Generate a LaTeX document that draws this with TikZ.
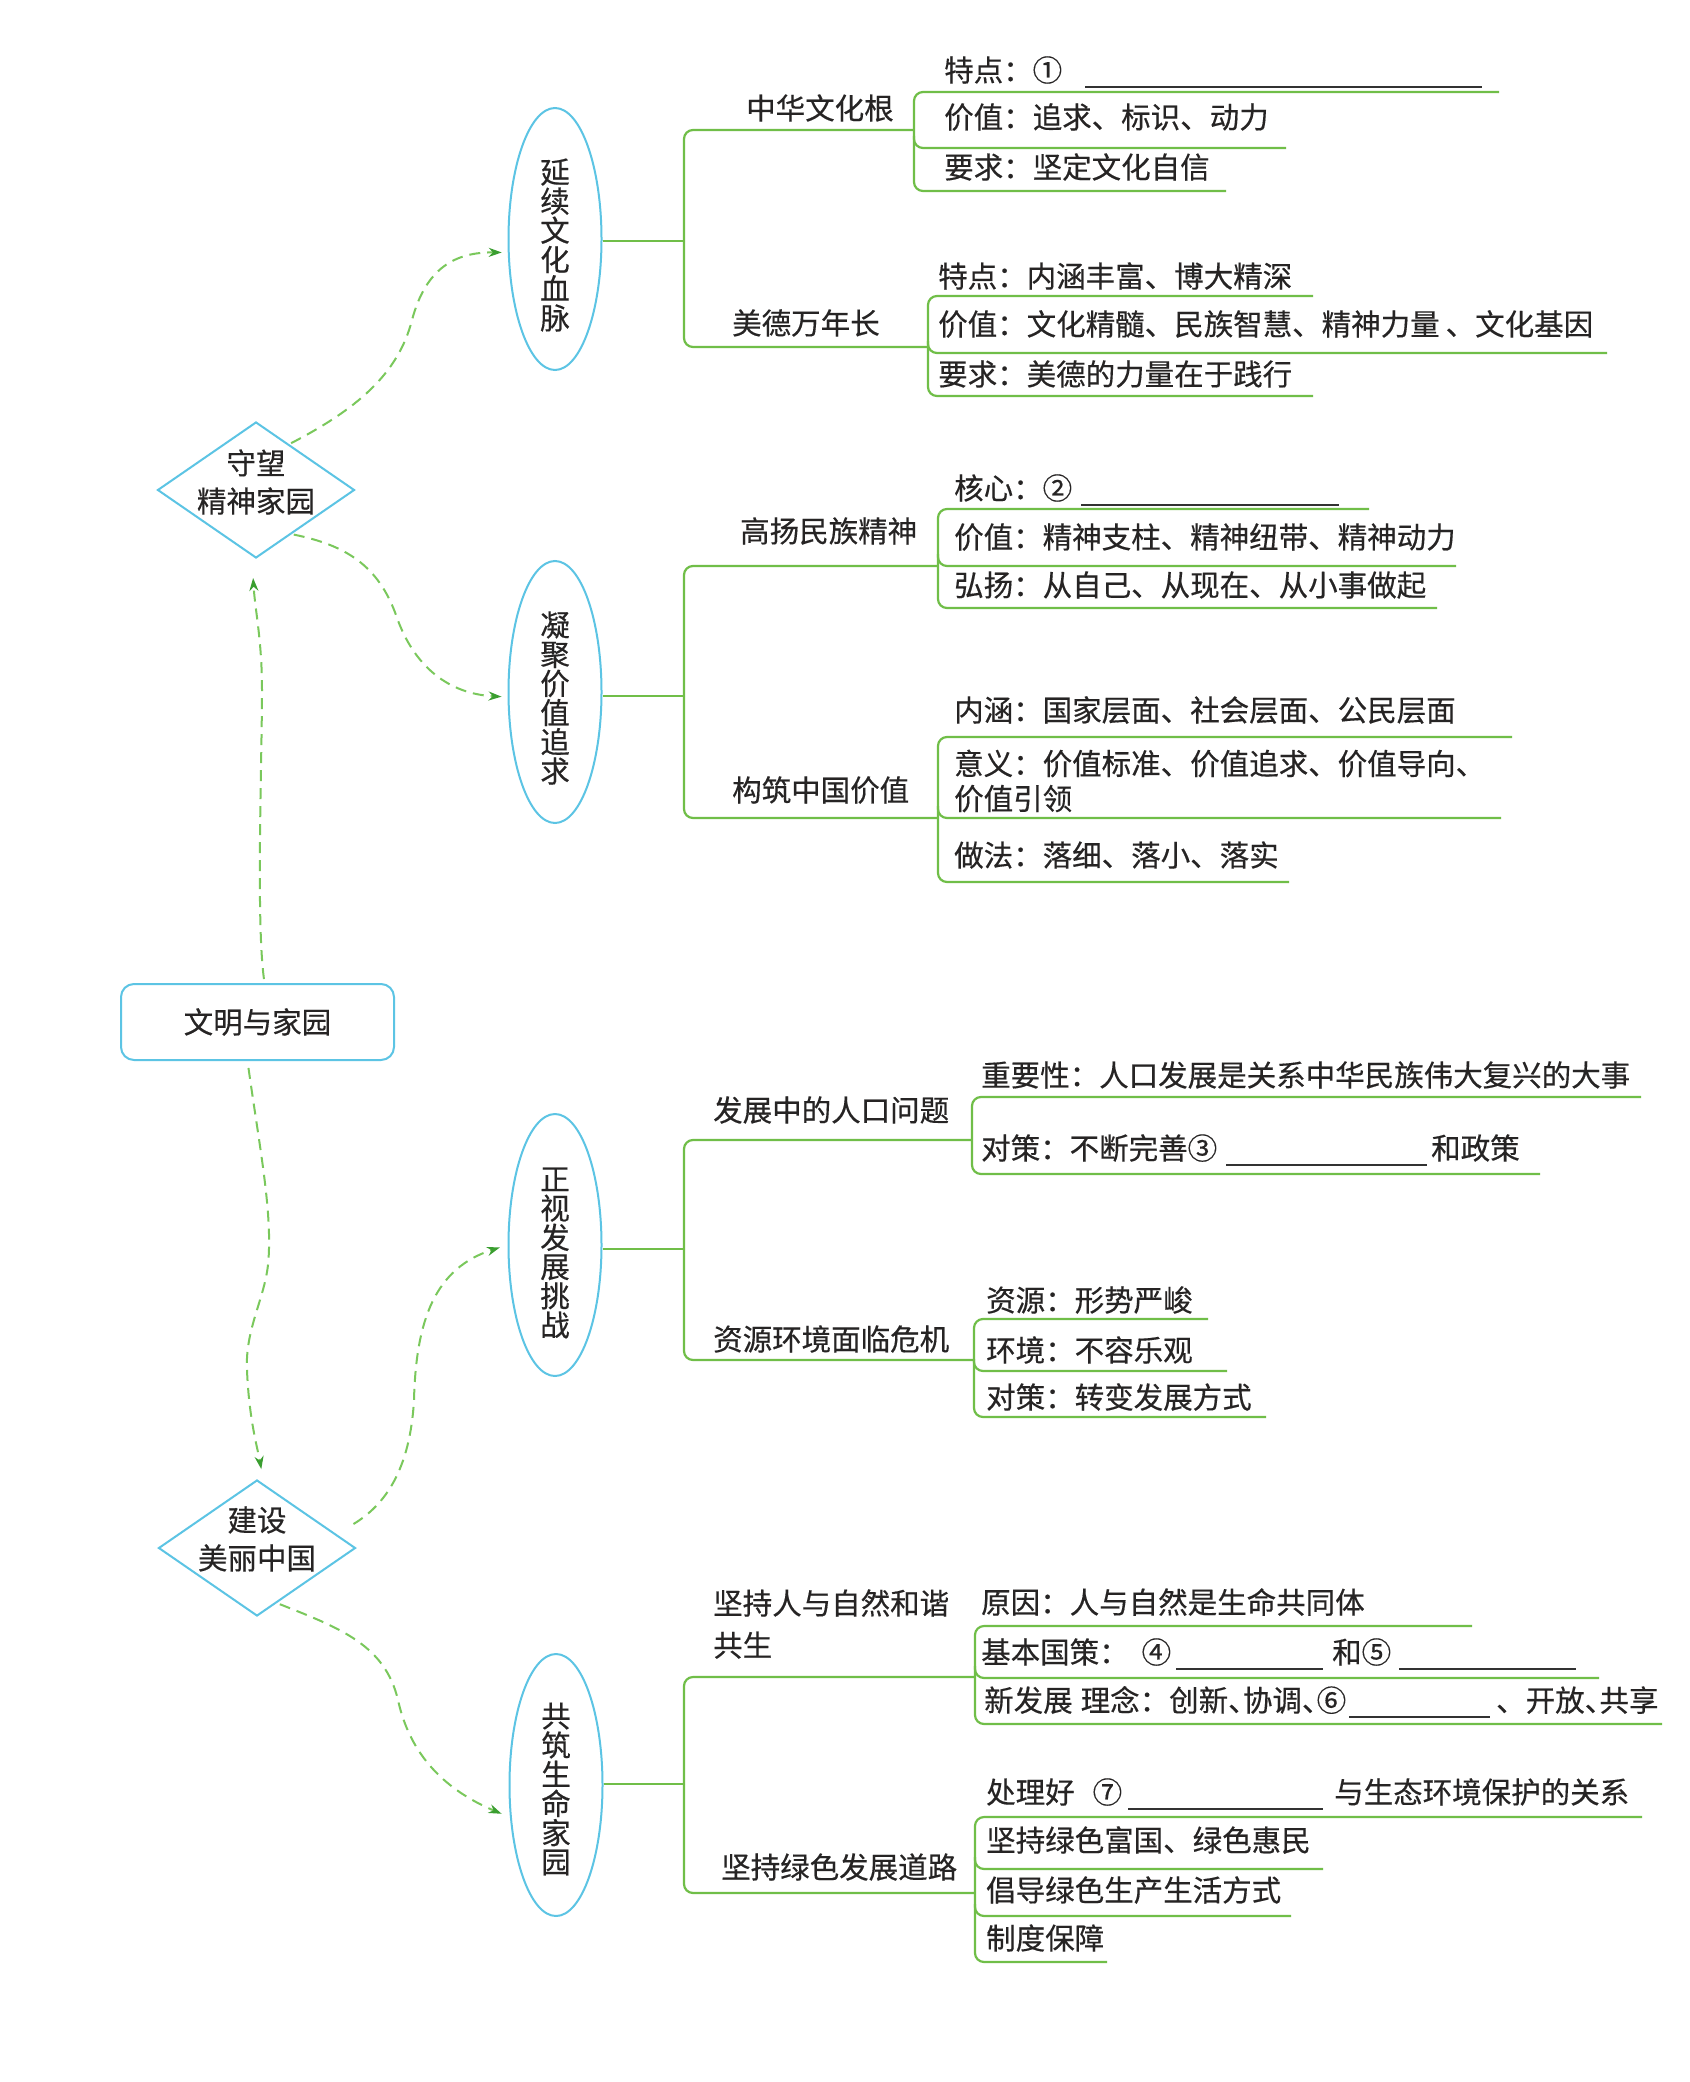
\documentclass[tikz,border=0pt]{standalone}
\usepackage{fontspec}
\setmainfont{Noto Sans CJK SC}[FakeBold=0.4]
\usetikzlibrary{shapes.geometric,arrows.meta,calc}
\definecolor{cy}{RGB}{92,196,228}
\definecolor{gr}{RGB}{112,190,72}
\definecolor{dg}{RGB}{122,200,92}
\definecolor{tipc}{RGB}{58,158,48}
\definecolor{ink}{RGB}{38,36,36}
\definecolor{blk}{RGB}{50,50,50}
\newcommand\myfs{\fontsize{29.5pt}{36pt}\selectfont}
\newcommand\blankln[1]{\raisebox{-7pt}[0pt][0pt]{\textcolor{blk}{\rule{#1}{2pt}}}}
\newcommand\hw[1]{\makebox[14.75pt][l]{#1}}
\begin{document}
\begin{tikzpicture}[x=1pt,y=-1pt,
  txt/.style={anchor=west,inner sep=0pt,text=ink,font=\myfs},
  lab/.style={anchor=west,inner sep=0pt,text=ink,font=\myfs},
  tree/.style={draw=gr,line width=2.2pt,rounded corners=9pt},
  flow/.style={draw=dg,line width=2pt,dash pattern=on 11pt off 7pt,
    -{Stealth[length=13pt,width=9pt,color=tipc]}},
  ttl/.style={draw=cy,line width=2pt,rounded corners=13pt,minimum width=273pt,
    minimum height=76pt,inner sep=0pt,text=ink,font=\myfs},
  dia/.style={diamond,draw=cy,line width=2pt,minimum width=197pt,
    minimum height=136pt,inner sep=0pt},
  ell/.style={ellipse,draw=cy,line width=2pt,minimum width=93pt,
    minimum height=262pt,inner sep=0pt},
  dl/.style={align=center,inner sep=0pt,text=ink,
    font={\fontsize{29.5pt}{38pt}\selectfont}},
  vl/.style={align=center,inner sep=0pt,text=ink,
    font={\fontsize{29.5pt}{29.2pt}\selectfont}}]
\fill[white] (0,0) rectangle (1689,2082);
\useasboundingbox (0,0) rectangle (1689,2082);

% ---------- main nodes ----------
\node[ttl] (T) at (257.5,1022) {文明与家园};
\node[dia,label={[dl,yshift=8pt]center:守望\\精神家园}] (D1) at (256,490) {};
\node[dia,label={[dl,yshift=9pt]center:建设\\美丽中国}] (D2) at (257,1548) {};
\node[ell,label={[vl,yshift=-6pt]center:延\\续\\文\\化\\血\\脉}] (E1) at (555,239) {};
\node[ell,label={[vl,yshift=-6pt]center:凝\\聚\\价\\值\\追\\求}] (E2) at (555,692) {};
\node[ell,label={[vl,yshift=-8pt]center:正\\视\\发\\展\\挑\\战}] (E3) at (555,1245) {};
\node[ell,label={[vl,yshift=-4pt]center:共\\筑\\生\\命\\家\\园}] (E4) at (556,1785) {};

% ---------- dashed arrows ----------
\draw[flow,shorten <=4pt,shorten >=19pt] ([xshift=7pt]T.north)
  .. controls (256,920) and (262,760) .. (262,690)
  .. controls (262,640) and (255,610) .. ([xshift=-4pt]D1.south);
\draw[flow,shorten <=7pt,shorten >=10pt] ([xshift=-10pt]T.south)
  .. controls (260,1150) and (273,1215) .. (268,1265)
  .. controls (264,1300) and (245,1330) .. (247,1370)
  .. controls (249,1420) and (258,1450) .. ([xshift=6pt]D2.north);
\draw[flow,shorten <=2pt,shorten >=6pt] (D1.54)
  .. controls (355,410) and (398,375) .. (412,320)
  .. controls (426,268) and (455,252) .. (E1.196);
\draw[flow,shorten <=2pt,shorten >=6pt] (D1.-51)
  .. controls (345,545) and (378,565) .. (396,615)
  .. controls (414,668) and (450,694) .. (E2.186);
\draw[flow,shorten >=8pt] ($(D2.east)+(-3,-24)$)
  .. controls (385,1505) and (410,1470) .. (414,1400)
  .. controls (416,1320) and (435,1268) .. (E3.west);
\draw[flow,shorten <=3pt,shorten >=9pt] (D2.-70)
  .. controls (340,1628) and (385,1645) .. (398,1700)
  .. controls (410,1755) and (445,1790) .. (E4.215);

% ---------- level-1 junctions ----------
\coordinate (j1) at (684,241);
\coordinate (j2) at (684,696);
\coordinate (j3) at (684,1249);
\coordinate (j4) at (684,1784);

% ---------- level-2 labels ----------
\node[lab] (L1a) at (746,108) {中华文化根};
\node[lab] (L1b) at (732,323) {美德万年长};
\node[lab] (L2a) at (740,531) {高扬民族精神};
\node[lab] (L2b) at (732,790) {构筑中国价值};
\node[lab] (L3a) at (713,1110) {发展中的人口问题};
\node[lab] (L3b) at (713,1339) {资源环境面临危机};
\node[lab,align=left,font={\fontsize{29.5pt}{42pt}\selectfont}] (L4a) at (713,1624) {坚持人与自然和谐\\共生};
\node[lab] (L4b) at (721,1867) {坚持绿色发展道路};

% ---------- level-3 items ----------
\node[txt] (I1a1) at (944,70) {特点：①\hspace{23pt}\blankln{397pt}};
\node[txt] (I1a2) at (944,117) {价值：追求、标识、动力};
\node[txt] (I1a3) at (944,167) {要求：坚定文化自信};
\node[txt] (I1b1) at (938,276) {特点：内涵丰富、博大精深};
\node[txt] (I1b2) at (938,324) {价值：文化精髓、民族智慧、精神力量\hspace{6pt}、文化基因};
\node[txt] (I1b3) at (938,374) {要求：美德的力量在于践行};
\node[txt] (I2a1) at (954,488) {核心：②\hspace{9pt}\blankln{258pt}};
\node[txt] (I2a2) at (954,537) {价值：精神支柱、精神纽带、精神动力};
\node[txt] (I2a3) at (954,585) {弘扬：从自己、从现在、从小事做起};
\node[txt] (I2b1) at (954,710) {内涵：国家层面、社会层面、公民层面};
\node[txt,align=left,font={\fontsize{29.5pt}{35pt}\selectfont}] (I2b2) at (954,781) {意义：价值标准、价值追求、价值导向、\\价值引领};
\node[txt] (I2b3) at (954,855) {做法：落细、落小、落实};
\node[txt] (I3a1) at (981,1075) {重要性：人口发展是关系中华民族伟大复兴的大事};
\node[txt] (I3a2) at (981,1148) {对策：不断完善③\hspace{9pt}\blankln{201pt}\hspace{4pt}和政策};
\node[txt] (I3b1) at (986,1300) {资源：形势严峻};
\node[txt] (I3b2) at (986,1350) {环境：不容乐观};
\node[txt] (I3b3) at (986,1397) {对策：转变发展方式};
\node[txt] (I4a1) at (981,1602) {原因：人与自然是生命共同体};
\node[txt] (I4a2) at (981,1652) {基本国策：\hspace{13pt}④\hspace{5pt}\blankln{147pt}\hspace{9pt}和⑤\hspace{8pt}\blankln{177pt}};
\node[txt] (I4a3) at (984,1700) {新发展\hspace{8pt}理念：创新\hw{、}协调\hw{、}⑥\hspace{3pt}\blankln{141pt}\hspace{6pt}、开放\hw{、}共享};
\node[txt] (I4b1) at (986,1792) {处理好\hspace{18pt}⑦\hspace{6pt}\blankln{195pt}\hspace{11pt}与生态环境保护的关系};
\node[txt] (I4b2) at (986,1840) {坚持绿色富国、绿色惠民};
\node[txt] (I4b3) at (986,1890) {倡导绿色生产生活方式};
\node[txt] (I4b4) at (986,1938) {制度保障};

% ---------- bracket coordinates ----------
% group 1a
\coordinate (g1a1) at (1499,92);  \coordinate (g1ab) at (914,191);
\coordinate (g1a3) at (1226,191); \coordinate (g1am) at (914,136);
\coordinate (g1a2) at (1286,148); \coordinate (g1aj) at (914,130);
% group 1b
\coordinate (g1b1) at (1313,296); \coordinate (g1bb) at (928,396);
\coordinate (g1b3) at (1313,396); \coordinate (g1bm) at (928,341);
\coordinate (g1b2) at (1607,353); \coordinate (g1bj) at (928,347);
% group 2a
\coordinate (g2a1) at (1369,509); \coordinate (g2ab) at (938,608);
\coordinate (g2a3) at (1437,608); \coordinate (g2am) at (938,554);
\coordinate (g2a2) at (1456,566); \coordinate (g2aj) at (938,566);
% group 2b
\coordinate (g2b1) at (1512,737); \coordinate (g2bb) at (938,882);
\coordinate (g2b3) at (1289,882); \coordinate (g2bm) at (938,806);
\coordinate (g2b2) at (1501,818); \coordinate (g2bj) at (938,818);
% group 3a
\coordinate (g3a1) at (1641,1097); \coordinate (g3ab) at (972,1174);
\coordinate (g3a2) at (1540,1174); \coordinate (g3aj) at (972,1140);
% group 3b
\coordinate (g3b1) at (1208,1319); \coordinate (g3bb) at (974,1417);
\coordinate (g3b3) at (1266,1417); \coordinate (g3bm) at (974,1359);
\coordinate (g3b2) at (1227,1371); \coordinate (g3bj) at (974,1360);
% group 4a
\coordinate (g4a1) at (1472,1626); \coordinate (g4ab) at (975,1724);
\coordinate (g4a3) at (1662,1724); \coordinate (g4am) at (975,1666);
\coordinate (g4a2) at (1599,1678); \coordinate (g4aj) at (975,1677);
% group 4b
\coordinate (g4b1) at (1642,1817); \coordinate (g4bb) at (975,1962);
\coordinate (g4b4) at (1107,1962); \coordinate (g4bm) at (975,1857);
\coordinate (g4b2) at (1323,1869); \coordinate (g4bn) at (975,1904);
\coordinate (g4b3) at (1291,1916); \coordinate (g4bj) at (975,1893);

% ---------- level-1 connectors ----------
\draw[tree] (E1.east |- j1) -- (j1);
\draw[tree] (E2.east |- j2) -- (j2);
\draw[tree] (E3.east |- j3) -- (j3);
\draw[tree] (E4.east |- j4) -- (j4);
\draw[tree] (j1) |- (g1aj);  \draw[tree] (j1) |- (g1bj);
\draw[tree] (j2) |- (g2aj);  \draw[tree] (j2) |- (g2bj);
\draw[tree] (j3) |- (g3aj);  \draw[tree] (j3) |- (g3bj);
\draw[tree] (j4) |- (g4aj);  \draw[tree] (j4) |- (g4bj);

% ---------- level-2 brackets ----------
\draw[tree] (g1a1) -| (g1ab) -- (g1a3);  \draw[tree] (g1am) |- (g1a2);
\draw[tree] (g1b1) -| (g1bb) -- (g1b3);  \draw[tree] (g1bm) |- (g1b2);
\draw[tree] (g2a1) -| (g2ab) -- (g2a3);  \draw[tree] (g2am) |- (g2a2);
\draw[tree] (g2b1) -| (g2bb) -- (g2b3);  \draw[tree] (g2bm) |- (g2b2);
\draw[tree] (g3a1) -| (g3ab) -- (g3a2);
\draw[tree] (g3b1) -| (g3bb) -- (g3b3);  \draw[tree] (g3bm) |- (g3b2);
\draw[tree] (g4a1) -| (g4ab) -- (g4a3);  \draw[tree] (g4am) |- (g4a2);
\draw[tree] (g4b1) -| (g4bb) -- (g4b4);  \draw[tree] (g4bm) |- (g4b2);
\draw[tree] (g4bn) |- (g4b3);
\end{tikzpicture}
\end{document}
